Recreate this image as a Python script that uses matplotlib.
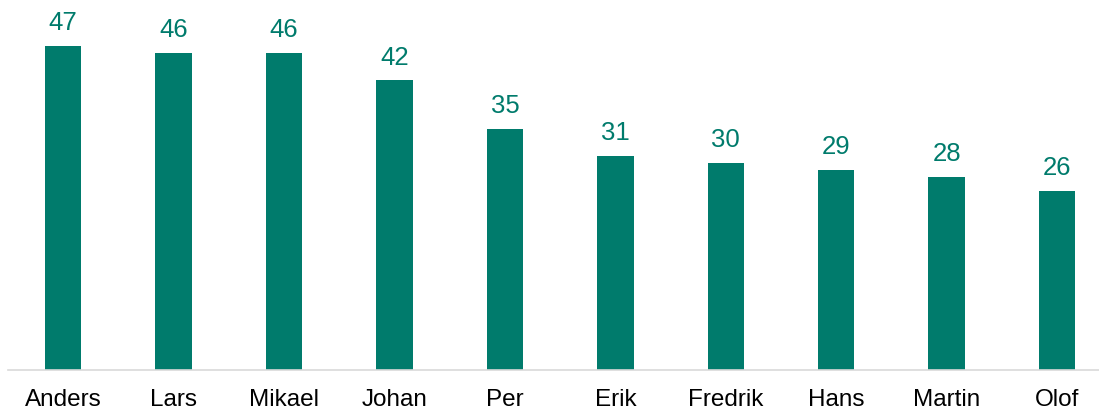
import matplotlib
matplotlib.use("Agg")
import matplotlib.pyplot as plt

names = ["Anders", "Lars", "Mikael", "Johan", "Per", "Erik", "Fredrik", "Hans", "Martin", "Olof"]
values = [47, 46, 46, 42, 35, 31, 30, 29, 28, 26]

bar_color = "#007B6C"
plt.rcParams['font.family'] = ['Liberation Sans', 'DejaVu Sans']

fig = plt.figure(figsize=(10.99, 4.10), dpi=100)
ax = fig.add_axes([8/1099, 39/410, 1 - 8/1099, 371/410])
x = list(range(len(names)))
ax.bar(x, values, width=0.33, color=bar_color, zorder=2)
for xi, v in zip(x, values):
    ax.annotate(str(v), (xi, v), xytext=(0, 8.5), textcoords="offset points",
                ha="center", va="bottom", color=bar_color, fontsize=18.5)
ax.set_xlim(-0.5, 9.38)
ax.set_ylim(0, 53.8)
ax.set_xticks(x)
ax.set_xticklabels(names, fontsize=17.5, color="black")
ax.tick_params(axis="x", length=0, pad=13)
ax.set_yticks([])
for s in ["top", "right", "left"]:
    ax.spines[s].set_visible(False)
ax.spines["bottom"].set_color("#D9D9D9")
ax.spines["bottom"].set_linewidth(1.2)
fig.savefig("out.png", dpi=100)
